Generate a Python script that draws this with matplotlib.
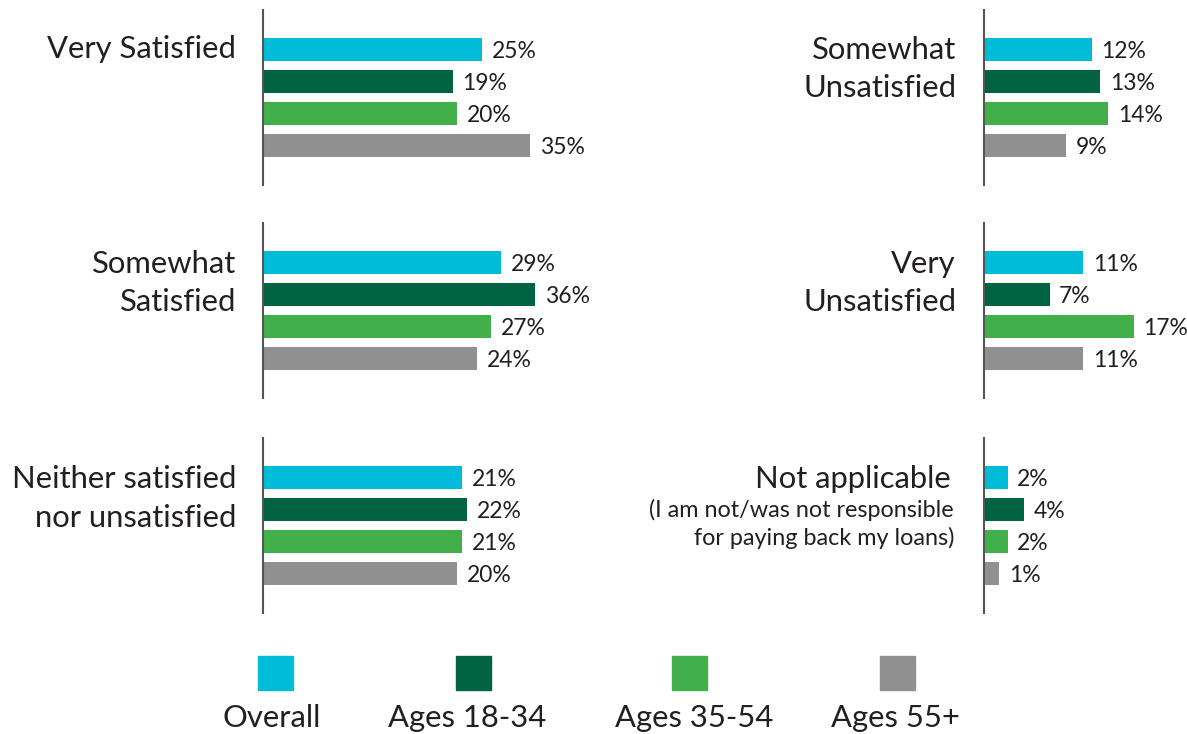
import matplotlib
matplotlib.use("Agg")
import matplotlib.pyplot as plt
from matplotlib.patches import Rectangle

plt.rcParams['font.family'] = ['Lato', 'DejaVu Sans']

# ---- data ----
groups = ["Overall", "Ages 18-34", "Ages 35-54", "Ages 55+"]
colors = ["#00BCD9", "#006341", "#41B04A", "#909090"]

left_categories = ["Very Satisfied", "Somewhat\nSatisfied", "Neither satisfied\nnor unsatisfied"]
right_categories = ["Somewhat\nUnsatisfied", "Very\nUnsatisfied", "Not applicable"]
na_note = "(I am not/was not responsible\nfor paying back my loans)"

very_satisfied = [25, 19, 20, 35]
somewhat_satisfied = [29, 36, 27, 24]
neither = [21, 22, 21, 20]
somewhat_unsatisfied = [12, 13, 14, 9]
very_unsatisfied = [11, 7, 17, 11]
not_applicable = [2, 4, 2, 1]

left_values = [very_satisfied, somewhat_satisfied, neither]
right_values = [somewhat_unsatisfied, very_unsatisfied, not_applicable]

# ---- layout (pixels) ----
W, H = 1187, 734
fig = plt.figure(figsize=(W / 100, H / 100), dpi=100)
TEXT = "#231F20"

def ax_px(x, y, w, h):
    return fig.add_axes([x / W, 1 - (y + h) / H, w / W, h / H])

row_tops = [10, 223, 438]
row_h = 175
pad_units = 1.25

def panel(x0, top, width, vals, base, px_per):
    ax = ax_px(x0, top, width, row_h)
    ax.set_xlim(base, base + width / px_per)
    ypos = list(range(len(vals)))
    ax.barh(ypos, [v - base for v in vals], left=base, height=0.72,
            color=colors, zorder=2)
    for yy, v in zip(ypos, vals):
        ax.annotate(f"{v}%", (v, yy), xytext=(7, -1.5), textcoords="offset points",
                    va="center", ha="left", fontsize=16.5, color=TEXT,
                    annotation_clip=False)
    ax.set_ylim(len(vals) - 1 + pad_units, -pad_units)
    for s in ["top", "right", "bottom"]:
        ax.spines[s].set_visible(False)
    ax.spines["left"].set_position(("data", base))
    ax.spines["left"].set_color("#555555")
    ax.spines["left"].set_linewidth(1.5)
    ax.set_xticks([])
    ax.set_yticks([])
    ax.patch.set_alpha(0)
    return ax

for top, vals in zip(row_tops, left_values):
    panel(263, top, 400, vals, -20.1, 4.85)
for top, vals in zip(row_tops, right_values):
    panel(984, top, 200, vals, -0.8, 8.4)

def ftext(x, y, s, **kw):
    fig.text(x / W, 1 - y / H, s, **kw)

def label_lines(x, baselines, text, size):
    for yb, line in zip(baselines, text.split("\n")):
        ftext(x, yb, line, fontsize=size, color=TEXT, ha="right", va="baseline")

label_lines(236, [58], left_categories[0], 22.3)
label_lines(236, [273, 311], left_categories[1], 22.3)
label_lines(236, [488, 527], left_categories[2], 22.3)
label_lines(956, [59, 97], right_categories[0], 22.3)
label_lines(956, [273, 311], right_categories[1], 22.3)
label_lines(951, [488], right_categories[2], 22.3)
label_lines(954, [517, 545], na_note, 16.8)

# ---- legend ----
sq_x = [258, 456, 672, 880]
label_cx = [272, 467, 694, 895]
for sx, cx, c, g in zip(sq_x, label_cx, colors, groups):
    fig.patches.append(Rectangle((sx / W, 1 - 690 / H), 35 / W, 34 / H,
                                 transform=fig.transFigure, color=c))
    ftext(cx, 727, g, fontsize=22.3, color=TEXT, ha="center", va="baseline")

fig.savefig("out.png", dpi=100, facecolor="white")
